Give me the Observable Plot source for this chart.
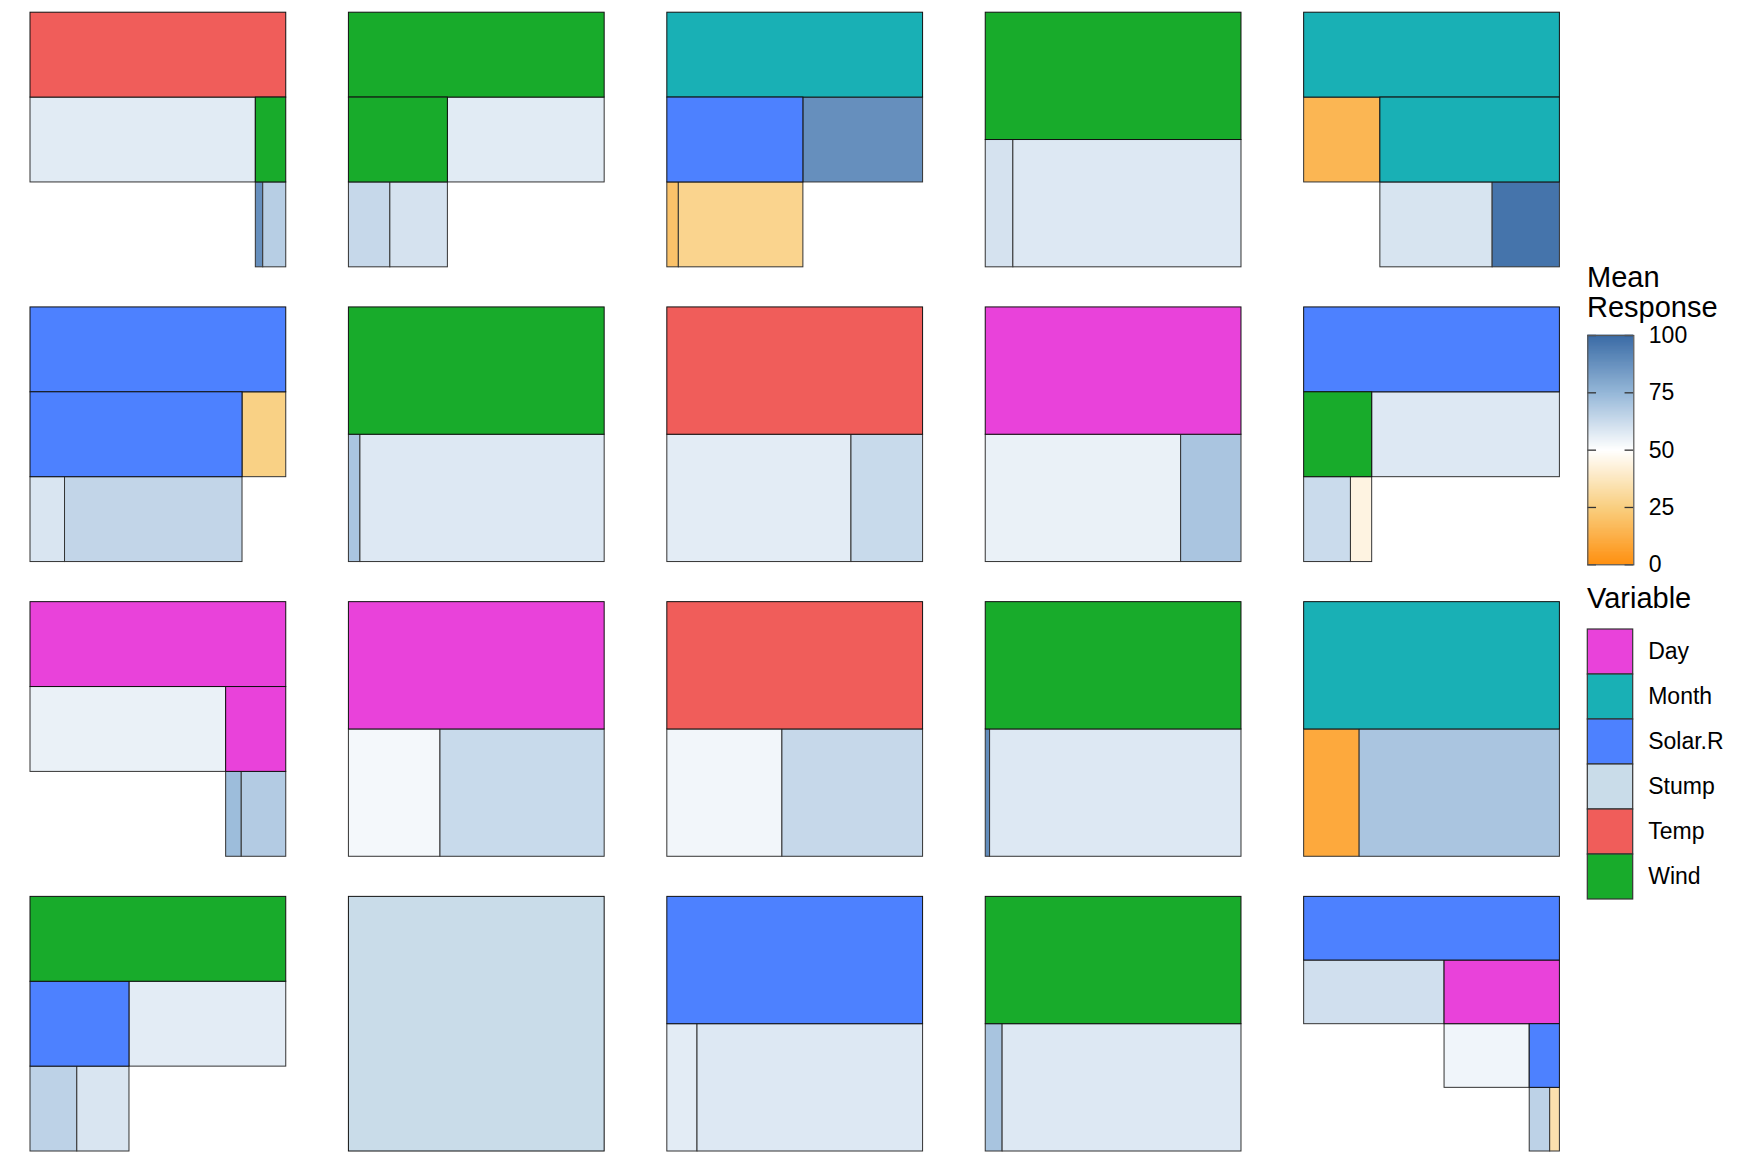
<!DOCTYPE html>
<html><head><meta charset="utf-8">
<script src="https://cdn.jsdelivr.net/npm/d3@7"></script>
<script src="https://cdn.jsdelivr.net/npm/@observablehq/plot@0.6"></script>
<style>
body{margin:0;background:#fff;font-family:"Liberation Sans",Arial,sans-serif;}
#wrap{position:relative;width:1744px;height:1164px;overflow:hidden;}
.abs{position:absolute;}
.ttl{position:absolute;font-size:29px;line-height:30.4px;color:#000;white-space:nowrap;}
</style></head><body><div id="wrap"></div>
<script>
// ---- legend categories / colours ----
const variables = ["Day", "Month", "Solar.R", "Stump", "Temp", "Wind"];
const variableColors = ["#E942DA", "#19B0B5", "#4D81FF", "#C9DCE9", "#F05D5A", "#18AB2B"];
const responseTicks = [0, 25, 50, 75, 100];
const gradientStops = ["#FF9010", "#F9CF80", "#FFFFFF", "#95B7D8", "#3A6BA5"];

// ---- trees: split node = [path, variable]; leaf = [path, share of samples (%), mean response] ----
const tree01 = [["", "Temp"], ["L", 88.1, 57], ["R", "Wind"], ["RL", 2.9, 88], ["RR", 9.0, 67]];
const tree02 = [["", "Wind"], ["L", "Wind"], ["LL", 16.2, 63.5], ["LR", 22.5, 60], ["R", 61.3, 57]];
const tree03 = [["", "Month"], ["L", "Solar.R"], ["LL", 4.5, 20], ["LR", 48.7, 27.7], ["R", 46.8, 88]];
const tree04 = [["", "Wind"], ["L", 10.8, 60], ["R", 89.2, 58]];
const tree05 = [["", "Month"], ["L", 29.8, 15], ["R", "Month"], ["RL", 43.9, 59.5], ["RR", 26.3, 97]];
const tree06 = [["", "Solar.R"], ["L", "Solar.R"], ["LL", 13.5, 59], ["LR", 69.4, 64.5], ["R", 17.1, 26]];
const tree07 = [["", "Wind"], ["L", 4.5, 70], ["R", 95.5, 58]];
const tree08 = [["", "Temp"], ["L", 72.0, 56.5], ["R", 28.0, 63]];
const tree09 = [["", "Day"], ["L", 76.4, 55], ["R", 23.6, 70]];
const tree10 = [["", "Solar.R"], ["L", "Wind"], ["LL", 18.3, 62.5], ["LR", 8.3, 44], ["R", 73.4, 58]];
const tree11 = [["", "Day"], ["L", 76.5, 55], ["R", "Day"], ["RL", 6.1, 73], ["RR", 17.4, 68]];
const tree12 = [["", "Day"], ["L", 35.8, 52.5], ["R", 64.2, 63]];
const tree13 = [["", "Temp"], ["L", 45.0, 53], ["R", 55.0, 63.5]];
const tree14 = [["", "Wind"], ["L", 1.7, 89], ["R", 98.3, 58]];
const tree15 = [["", "Month"], ["L", 21.7, 10], ["R", 78.3, 70]];
const tree16 = [["", "Wind"], ["L", "Solar.R"], ["LL", 18.3, 65.5], ["LR", 20.4, 59], ["R", 61.3, 56.5]];
const tree17 = [["", "Stump"]];
const tree18 = [["", "Solar.R"], ["L", 11.8, 56.5], ["R", 88.2, 58]];
const tree19 = [["", "Wind"], ["L", 6.6, 70.5], ["R", 93.4, 58]];
const tree20 = [["", "Solar.R"], ["L", 54.9, 61], ["R", "Day"], ["RL", 33.3, 53.5], ["RR", "Solar.R"], ["RRL", 8.0, 65.5], ["RRR", 3.8, 34]];

const forest = [tree01, tree02, tree03, tree04, tree05, tree06, tree07, tree08, tree09, tree10,
                tree11, tree12, tree13, tree14, tree15, tree16, tree17, tree18, tree19, tree20];

const nCols = 5, nRows = 4;
const gapX = 0.245, gapY = 0.1575;

// ---- icicle layout per tree (d3.partition) ----
const nodes = [];
forest.forEach((tree, i) => {
  const col = i % nCols, row = Math.floor(i / nCols);
  const rows = tree.map(([path, a, b]) => ({
    id: "n" + path,
    parent: path === "" ? null : "n" + path.slice(0, -1),
    variable: typeof a === "string" ? a : null,
    size: typeof a === "number" ? a : 0,
    mean: typeof a === "number" ? b : null
  }));
  const root = d3.stratify().id(d => d.id).parentId(d => d.parent)(rows);
  root.sum(d => d.size);
  const levels = root.height + 1;
  d3.partition().size([1, levels])(root);
  root.each(n => {
    nodes.push({
      tree: i + 1,
      variable: n.data.variable,
      mean: n.data.mean,
      x1: col * (1 + gapX) + n.x0,
      x2: col * (1 + gapX) + n.x1,
      y1: row * (1 + gapY) + n.y0 / levels,
      y2: row * (1 + gapY) + n.y1 / levels
    });
  });
});
const leaves = nodes.filter(d => d.variable == null);
const splits = nodes.filter(d => d.variable != null);

const wrap = document.getElementById("wrap");
const fontFamily = "'Liberation Sans', Arial, sans-serif";
const colorScale = {type: "linear", domain: responseTicks, range: gradientStops, interpolate: "rgb"};

const main = Plot.plot({
  width: 1575, height: 1164,
  marginLeft: 30, marginRight: 15.6, marginTop: 12.2, marginBottom: 13,
  style: {fontFamily, background: "white"},
  x: {domain: [0, nCols + (nCols - 1) * gapX], axis: null},
  y: {domain: [0, nRows + (nRows - 1) * gapY], axis: null, reverse: true},
  color: colorScale,
  marks: [
    Plot.rect(leaves, {x1: "x1", x2: "x2", y1: "y1", y2: "y2", fill: "mean", stroke: "#333", strokeWidth: 1}),
    ...variables.map((v, k) => Plot.rect(splits.filter(d => d.variable === v),
      {x1: "x1", x2: "x2", y1: "y1", y2: "y2", fill: variableColors[k], stroke: "#111", strokeWidth: 1}))
  ]
});
main.classList.add("abs");
main.style.left = "0px"; main.style.top = "0px";
wrap.appendChild(main);

// ---- colour bar legend ----
const step = 0.5;
const ramp = d3.range(0, 100, step);
const bar = Plot.plot({
  width: 169, height: 320,
  marginLeft: 12.3, marginRight: 110.7, marginTop: 75, marginBottom: 15.7,
  style: {fontFamily, background: "transparent", overflow: "visible"},
  x: {domain: [0, 1], axis: null},
  y: {domain: [0, 100], axis: null},
  color: colorScale,
  marks: [
    Plot.rect(ramp, {x1: 0, x2: 1, y1: d => d, y2: d => d + step, fill: d => d + step / 2, insetTop: -0.4, insetBottom: -0.4}),
    Plot.ruleY(responseTicks, {x1: 0, x2: 0.19, stroke: "#333", strokeWidth: 1.3}),
    Plot.ruleY(responseTicks, {x1: 0.81, x2: 1, stroke: "#333", strokeWidth: 1.3}),
    Plot.frame({stroke: "#555", strokeWidth: 1.2}),
    Plot.axisY(responseTicks, {anchor: "right", tickSize: 0, tickPadding: 15, fontSize: 23, textAnchor: "start", fill: "#000", label: null})
  ]
});
bar.classList.add("abs");
bar.style.left = "1575px"; bar.style.top = "260px";
wrap.appendChild(bar);

// ---- variable legend ----
const keyLegend = Plot.plot({
  width: 169, height: 320,
  marginLeft: 12.3, marginRight: 111.3, marginTop: 27, marginBottom: 18.3,
  style: {fontFamily, background: "transparent", overflow: "visible"},
  y: {domain: variables, padding: 0, axis: null},
  marks: [
    Plot.cell(variables, {y: d => d, fill: (d, i) => variableColors[i], stroke: "#333", strokeWidth: 1.2, inset: 0}),
    Plot.axisY(variables, {anchor: "right", tickSize: 0, tickPadding: 15, fontSize: 23, textAnchor: "start", fill: "#000", label: null})
  ]
});
keyLegend.classList.add("abs");
keyLegend.style.left = "1575px"; keyLegend.style.top = "600px";
wrap.appendChild(keyLegend);

// ---- legend titles ----
const t1 = document.createElement("div");
t1.className = "ttl"; t1.style.left = "1587px"; t1.style.top = "262px";
t1.innerHTML = "Mean<br>Response";
wrap.appendChild(t1);
const t2 = document.createElement("div");
t2.className = "ttl"; t2.style.left = "1587px"; t2.style.top = "583px";
t2.textContent = "Variable";
wrap.appendChild(t2);
</script></body></html>
